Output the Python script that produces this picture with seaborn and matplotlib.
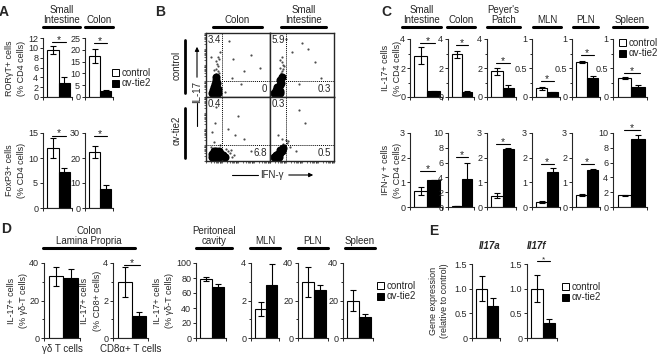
import numpy as np
import matplotlib
matplotlib.use("Agg")
import matplotlib.pyplot as plt
from matplotlib.patches import Patch
import seaborn as sns

sns.set_style("ticks")
plt.rcParams['font.family'] = ['Liberation Sans', 'DejaVu Sans']

W, H = 663, 357

groups = ["control", "αv-tie2"]
bar_colors = {"control": "white", "αv-tie2": "black"}

# panel A: RORgT+ and FoxP3+ cells (% CD4), small intestine and colon
a_ror = [[9.6, 2.9], [17.4, 2.6]]
a_ror_err = [[0.8, 1.2], [2.8, 0.3]]
a_foxp3 = [[12.1, 7.3], [22.5, 7.7]]
a_foxp3_err = [[2.0, 0.7], [2.3, 1.5]]

# panel B: quadrant percentages (upper left, lower right)
b_colon_ctrl = ["3.4", "0"]
b_si_ctrl = ["5.9", "0.3"]
b_colon_tie2 = ["0.4", "6.8"]
b_si_tie2 = ["0.3", "0.5"]

# panel B dot clouds (IFN-g, IL-17 in display units 0-100)
cc_dense_x = [10, 14, 18, 11, 15, 19, 12, 16, 14, 17, 15, 16]
cc_dense_y = [6, 5, 7, 11, 10, 12, 16, 17, 21, 22, 27, 32]
cc_sparse_x = [16, 18, 15, 19, 17, 20, 16, 14, 30, 42, 55, 70, 8, 36, 22, 60, 85, 20, 40, 13, 18]
cc_sparse_y = [36, 40, 44, 48, 52, 38, 56, 34, 8, 60, 20, 65, 62, 88, 70, 40, 45, 60, 30, 42, 62]
sc_dense_x = [7, 11, 15, 9, 13, 16, 11, 15, 17, 16, 18]
sc_dense_y = [6, 5, 7, 11, 12, 10, 16, 18, 22, 27, 32]
sc_sparse_x = [17, 19, 16, 20, 18, 21, 15, 35, 50, 70, 25, 45, 80, 60, 19, 22]
sc_sparse_y = [37, 41, 46, 50, 54, 43, 58, 70, 85, 55, 90, 20, 30, 75, 62, 48]
ct_dense_x = [9, 13, 17, 21, 25, 10, 14, 18, 22, 27, 12, 16, 30, 20]
ct_dense_y = [6, 5, 6, 7, 8, 11, 12, 11, 12, 10, 16, 16, 6, 15]
ct_sparse_x = [33, 37, 41, 35, 43, 12, 10, 14, 22, 35, 50, 60, 15, 8, 45, 70, 39, 31]
ct_sparse_y = [9, 12, 7, 15, 10, 30, 45, 60, 25, 50, 70, 35, 85, 22, 40, 15, 17, 19]
st_dense_x = [7, 11, 14, 9, 13, 16, 19, 15, 21]
st_dense_y = [6, 5, 7, 10, 11, 12, 15, 17, 21]
st_sparse_x = [23, 26, 20, 28, 32, 18, 40, 55, 12, 45, 25]
st_sparse_y = [25, 28, 26, 31, 22, 35, 15, 60, 40, 80, 33]

# panel C: IL-17+ and IFN-g+ cells (% CD4)
c_tissues = ["Small\nIntestine", "Colon", "Peyer's\nPatch", "MLN", "PLN", "Spleen"]
c_il17 = [[2.85, 0.38], [2.95, 0.35], [1.78, 0.65], [0.15, 0.08], [0.60, 0.33], [0.33, 0.18]]
c_il17_err = [[0.6, 0.03], [0.25, 0.03], [0.25, 0.15], [0.03, 0.01], [0.02, 0.03], [0.02, 0.02]]
c_ifng = [[0.65, 1.1], [0.1, 3.8], [0.45, 2.35], [0.2, 1.4], [0.48, 1.5], [1.6, 9.2]]
c_ifng_err = [[0.15, 0.0], [0.0, 2.1], [0.1, 0.03], [0.05, 0.2], [0.03, 0.03], [0.05, 0.5]]

# panel D: IL-17+ cells
d_gd = [33, 32]
d_gd_err = [5, 5]
d_cd8 = [3.0, 1.15]
d_cd8_err = [0.8, 0.25]
d_perit = [79, 68]
d_perit_err = [3, 3.5]
d_mln = [1.55, 2.85]
d_mln_err = [0.35, 1.1]
d_pln = [30, 25.5]
d_pln_err = [8, 3]
d_spleen = [20, 11]
d_spleen_err = [5.5, 2]

# panel E: gene expression relative to control
e_genes = ["Il17a", "Il17f"]
e_expr = [[1.0, 0.65], [1.0, 0.3]]
e_expr_err = [[0.25, 0.16], [0.27, 0.08]]

fig = plt.figure(figsize=(W / 100, H / 100), dpi=100)


def fx(x):
    return x / W


def fy(y):
    return 1 - y / H


def add_ax(x0, x1, ytop, ybot):
    return fig.add_axes([fx(x0), fy(ybot), (x1 - x0) / W, (ybot - ytop) / H])


def txt(x, y, s, **kw):
    kw.setdefault("fontsize", 7)
    kw.setdefault("ha", "center")
    kw.setdefault("va", "center")
    fig.text(fx(x), fy(y), s, **kw)


def line(x0, x1, y0, y1, lw=2.2, **kw):
    fig.add_artist(plt.Line2D([fx(x0), fx(x1)], [fy(y0), fy(y1)], color="black", lw=lw, **kw))


def header(x0, x1, y, label):
    line(x0, x1, y, y)
    txt((x0 + x1) / 2, y - 2, label, va="bottom", linespacing=1.0)


def bars(ax, vals, errs, ymax, ticks, labels, minor=None, sig=None, star_size=7.5):
    sns.barplot(x=groups, y=vals, hue=groups, palette=bar_colors, width=1,
                edgecolor="black", linewidth=0.8, legend=False, errorbar=None, ax=ax)
    ax.errorbar([0, 1], vals, yerr=errs, fmt="none", ecolor="black",
                elinewidth=0.8, capsize=2.2, capthick=0.8, zorder=3)
    ax.set_xlim(-0.85, 1.65)
    ax.set_ylim(0, ymax)
    ax.set_xticks([-0.85, 1.65], labels=["", ""])
    ax.set_yticks(ticks, labels=labels)
    if minor is not None:
        ax.set_yticks(minor, minor=True)
    ax.set_xlabel("")
    ax.set_ylabel("")
    sns.despine(ax=ax)
    for s in ["left", "bottom"]:
        ax.spines[s].set_linewidth(0.8)
    ax.tick_params(axis="both", which="both", direction="out", width=0.7,
                   labelsize=6.5, pad=1)
    ax.tick_params(axis="y", which="major", length=2.5)
    ax.tick_params(axis="y", which="minor", length=1.5)
    ax.tick_params(axis="x", length=2)
    ax.patch.set_alpha(0)
    if sig is not None:
        ax.plot([-0.05, 1.1], [sig, sig], color="black", lw=0.8, clip_on=False)
        ax.annotate("*", (0.52, sig), xytext=(0, -2.2), textcoords="offset points",
                    ha="center", va="bottom", fontsize=star_size, annotation_clip=False)


def legend_at(x, y):
    handles = [Patch(facecolor=bar_colors[g], edgecolor="black", linewidth=0.7, label=g) for g in groups]
    fig.legend(handles=handles, loc="upper left", bbox_to_anchor=(fx(x), fy(y)),
               frameon=False, fontsize=7, handlelength=0.75, handleheight=0.75,
               handletextpad=0.2, labelspacing=0.05, borderpad=0, borderaxespad=0)


# ---------------- panel A ----------------
txt(4, 12, "A", fontsize=10, weight="bold")
header(43, 80, 27, "Small\nIntestine")
header(85, 113, 27, "Colon")
ax = add_ax(43, 72, 38, 97)
bars(ax, a_ror[0], a_ror_err[0], 12, [0, 2, 4, 6, 8, 10, 12],
     ["0", "2", "4", "6", "8", "10", "12"], sig=11.2)
ax = add_ax(85, 113, 38, 97)
bars(ax, a_ror[1], a_ror_err[1], 25, [0, 5, 10, 15, 20, 25],
     ["0", "5", "10", "15", "20", "25"], sig=23.0)
ax = add_ax(43, 72, 133, 208)
bars(ax, a_foxp3[0], a_foxp3_err[0], 15, [0, 5, 10, 15],
     ["0", "5", "10", "15"], sig=14.5)
ax = add_ax(85, 113, 133, 208)
bars(ax, a_foxp3[1], a_foxp3_err[1], 30, [0, 10, 20, 30],
     ["0", "10", "20", "30"], sig=28.8)
txt(10, 68, "RORγT+ cells", rotation=90, fontsize=6.5)
txt(22, 68, "(% CD4 cells)", rotation=90, fontsize=6.5)
txt(10, 170, "FoxP3+ cells", rotation=90, fontsize=6.5)
txt(22, 170, "(% CD4 cells)", rotation=90, fontsize=6.5)
legend_at(112, 68)

# ---------------- panel B ----------------
txt(160, 12, "B", fontsize=10, weight="bold")
header(213, 262, 27, "Colon")
header(281, 326, 27, "Small\nIntestine")

flow = [
    ((206, 270, 33, 97), cc_dense_x, cc_dense_y, cc_sparse_x, cc_sparse_y, b_colon_ctrl),
    ((270, 334, 33, 97), sc_dense_x, sc_dense_y, sc_sparse_x, sc_sparse_y, b_si_ctrl),
    ((206, 270, 97, 161), ct_dense_x, ct_dense_y, ct_sparse_x, ct_sparse_y, b_colon_tie2),
    ((270, 334, 97, 161), st_dense_x, st_dense_y, st_sparse_x, st_sparse_y, b_si_tie2),
]
log_ticks = [d * 25 + 25 * np.log10(k) for d in range(4) for k in range(1, 10)] + [100]
for i, (rect, dx, dy, sx, sy, nums) in enumerate(flow):
    ax = add_ax(*rect)
    sns.scatterplot(x=sx, y=sy, s=2.5, color="0.3", linewidth=0, ax=ax)
    sns.scatterplot(x=dx, y=dy, s=34, color="black", linewidth=0, ax=ax)
    ax.axvline(25, color="black", lw=0.7, ls=(0, (1, 1)))
    ax.axhline(25, color="black", lw=0.7, ls=(0, (1, 1)))
    ax.set_xlim(0, 100)
    ax.set_ylim(0, 100)
    for s in ax.spines.values():
        s.set_linewidth(1.0)
    ax.set_xticks(log_ticks if i >= 2 else [])
    ax.set_yticks(log_ticks if i % 2 == 0 else [])
    ax.set_xticklabels([])
    ax.set_yticklabels([])
    ax.tick_params(length=1.5, width=0.5, direction="out")
    ax.text(2, 97, nums[0], ha="left", va="top", fontsize=7)
    ax.text(96, 4, nums[1], ha="right", va="bottom", fontsize=7)

txt(177, 65, "control", rotation=90)
line(185, 185, 40, 93, lw=2.0)
txt(177, 130, "αv-tie2", rotation=90)
line(185, 185, 108, 158, lw=2.0)
txt(197, 92, "IL-17", rotation=90)
line(197, 197, 126, 103, lw=0.8)
fig.add_artist(matplotlib.patches.FancyArrowPatch((fx(197), fy(80)), (fx(197), fy(44)),
                                                  transform=fig.transFigure, arrowstyle="-|>",
                                                  mutation_scale=6, lw=0.8, color="black"))
txt(272, 175, "IFN-γ")
line(232, 258, 175, 175, lw=0.8)
fig.add_artist(matplotlib.patches.FancyArrowPatch((fx(286), fy(175)), (fx(316), fy(175)),
                                                  transform=fig.transFigure, arrowstyle="-|>",
                                                  mutation_scale=6, lw=0.8, color="black"))

# ---------------- panel C ----------------
txt(386, 12, "C", fontsize=10, weight="bold")
c_pos = [(410, 442, 402, 441), (448, 474, 447, 475), (487, 516, 487, 520),
         (532, 560, 533, 561), (572, 600, 573, 598), (613, 647, 613, 647)]
top_max = [4, 4, 4, 1, 1, 1]
top_sig = [3.7, 3.6, 2.35, 0.27, 0.72, 0.42]
bot_max = [3, 10, 3, 3, 3, 10]
bot_sig = [1.45, 6.7, 2.55, 1.75, 1.75, 10.4]
for i, (x0, x1, h0, h1) in enumerate(c_pos):
    header(h0, h1, 27, c_tissues[i])
    ax = add_ax(x0, x1, 39, 97)
    if top_max[i] == 4:
        bars(ax, c_il17[i], c_il17_err[i], 4, [0, 2, 4], ["0", "2", "4"],
             minor=[1, 3], sig=top_sig[i])
    else:
        bars(ax, c_il17[i], c_il17_err[i], 1, [0, 0.5, 1], ["0", "0.5", "1"],
             minor=[0.25, 0.75], sig=top_sig[i])
    ax = add_ax(x0, x1, 133, 207)
    if bot_max[i] == 3:
        bars(ax, c_ifng[i], c_ifng_err[i], 3, [0, 1, 2, 3], ["0", "1", "2", "3"],
             sig=bot_sig[i])
    else:
        bars(ax, c_ifng[i], c_ifng_err[i], 10, [0, 2, 4, 6, 8, 10],
             ["0", "2", "4", "6", "8", "10"], sig=bot_sig[i])
txt(385, 68, "IL-17+ cells", rotation=90, fontsize=6.5)
txt(397, 68, "(% CD4 cells)", rotation=90, fontsize=6.5)
txt(385, 170, "IFN-γ + cells", rotation=90, fontsize=6.5)
txt(397, 170, "(% CD4 cells)", rotation=90, fontsize=6.5)
legend_at(619, 38)

# ---------------- panel D ----------------
txt(6, 229, "D", fontsize=10, weight="bold")
header(43, 135, 248, "Colon\nLamina Propria")
header(196, 232, 248, "Peritoneal\ncavity")
header(250, 280, 248, "MLN")
header(298, 328, 248, "PLN")
header(345, 375, 248, "Spleen")
ax = add_ax(44, 80, 263, 338)
bars(ax, d_gd, d_gd_err, 40, [0, 20, 40], ["0", "20", "40"], minor=[10, 30])
ax = add_ax(113, 148, 263, 338)
bars(ax, d_cd8, d_cd8_err, 4, [0, 2, 4], ["0", "2", "4"], minor=[1, 3], sig=3.9)
ax = add_ax(196, 226, 263, 338)
bars(ax, d_perit, d_perit_err, 100, [0, 20, 40, 60, 80, 100],
     ["0", "20", "40", "60", "80", "100"])
ax = add_ax(251, 279, 263, 338)
bars(ax, d_mln, d_mln_err, 4, [0, 2, 4], ["0", "2", "4"], minor=[1, 3])
ax = add_ax(298, 328, 263, 338)
bars(ax, d_pln, d_pln_err, 40, [0, 20, 40], ["0", "20", "40"], minor=[10, 30])
ax = add_ax(343, 373, 263, 338)
bars(ax, d_spleen, d_spleen_err, 40, [0, 20, 40], ["0", "20", "40"], minor=[10, 30])
txt(12, 301, "IL-17+ cells", rotation=90, fontsize=6.5)
txt(24, 301, "(% γδ-T cells)", rotation=90, fontsize=6.5)
txt(85, 301, "IL-17+ cells", rotation=90, fontsize=6.5)
txt(97, 301, "(% CD8+ cells)", rotation=90, fontsize=6.5)
txt(158, 301, "IL-17+ cells", rotation=90, fontsize=6.5)
txt(169, 301, "(% γδ-T cells)", rotation=90, fontsize=6.5)
txt(62, 349, "γδ T cells")
txt(131, 349, "CD8α+ T cells")
legend_at(377, 281)

# ---------------- panel E ----------------
txt(434, 231, "E", fontsize=10, weight="bold")
txt(490, 246, e_genes[0], style="italic", weight="bold")
txt(537, 246, e_genes[1], style="italic", weight="bold")
ax = add_ax(472, 500, 264, 338)
bars(ax, e_expr[0], e_expr_err[0], 1.5, [0, 0.5, 1.0, 1.5], ["0", "0.5", "1.0", "1.5"])
ax = add_ax(527, 557, 264, 338)
bars(ax, e_expr[1], e_expr_err[1], 1.5, [0, 0.5, 1.0, 1.5], ["0", "0.5", "1.0", "1.5"],
     sig=1.57, star_size=6)
txt(433, 301, "Gene expression", rotation=90, fontsize=6.5)
txt(445, 301, "(relative to control)", rotation=90, fontsize=6.5)
legend_at(562, 282)

fig.savefig("out.png", dpi=100)
